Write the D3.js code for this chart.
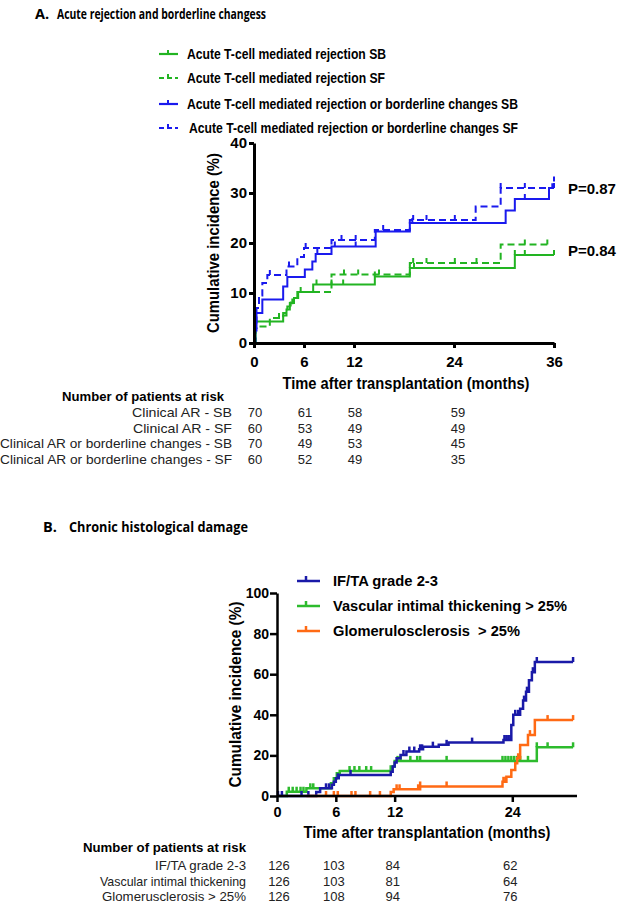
<!DOCTYPE html>
<html><head><meta charset="utf-8">
<script src="https://cdn.jsdelivr.net/npm/d3@7"></script>
<style>body{margin:0;background:#fff}svg{display:block}</style>
</head><body>
<script>
// ---------- DATA ----------
// Panel A (months, cumulative incidence %)
const aGreenSB_t = [0, 0.2, 3.5, 3.9, 4.3, 4.8, 5.3, 7.1, 14.5, 18.7, 31.3];
const aGreenSB_v = [0, 4.3, 5.5, 6.7, 8.0, 9.0, 10.2, 11.7, 13.3, 15.0, 17.6];
const aGreenSB_end = 36;
const aGreenSB_c = [7.5, 9.3, 10.7, 14.5, 19.2, 31.3, 32.5, 36];
const aGreenSF_t = [0, 0.2, 1.9, 3.5, 4.0, 4.6, 5.2, 9.3, 18.7, 29.6];
const aGreenSF_v = [0, 3.3, 5.0, 6.0, 7.3, 8.7, 10.2, 13.7, 16.0, 19.7];
const aGreenSF_end = 35.2;
const aGreenSF_c = [3.0, 4.4, 5.6, 10.8, 12.5, 15.0, 19.1, 20.7, 24.1, 26.7, 32.5, 35.2];
const aBlueSB_t = [0, 0.15, 0.3, 1.0, 3.5, 4.0, 6.1, 7.0, 7.4, 9.3, 14.6, 18.7, 30.2, 31.3, 35.4];
const aBlueSB_v = [0, 2.5, 6.0, 8.7, 11.3, 13.2, 14.7, 16.3, 17.8, 19.3, 22.3, 24.0, 26.5, 28.8, 31.0];
const aBlueSB_end = 36;
const aBlueSB_c = [7.6, 9.7, 12.2, 19.0, 32.5, 36];
const aBlueSF_t = [0, 0.15, 0.3, 0.6, 1.0, 1.6, 3.9, 5.2, 6.0, 9.3, 14.5, 18.7, 26.6, 29.6, 35.8];
const aBlueSF_v = [0, 3, 7, 9.5, 12, 13.6, 15.3, 17.2, 19.0, 20.6, 22.6, 24.6, 27.3, 31.0, 32.3];
const aBlueSF_end = 36;
const aBlueSF_c = [1.9, 4.2, 6.2, 10.5, 12.2, 15.5, 19.1, 20.7, 24.1, 29.6, 32.5, 36];
const aXTicks = [0, 6, 12, 24, 36];
const aYTicks = [0, 10, 20, 30, 40];
const aLegend = ["Acute T-cell mediated rejection SB", "Acute T-cell mediated rejection SF",
  "Acute T-cell mediated rejection or borderline changes SB", "Acute T-cell mediated rejection or borderline changes SF"];
const aPvals = [{label: "P=0.87", v: 31.0}, {label: "P=0.84", v: 18.7}];
const aRiskMonths = [0, 6, 12, 24];
const aRiskLabels = ["Clinical AR - SB", "Clinical AR - SF", "Clinical AR or borderline changes - SB", "Clinical AR or borderline changes - SF"];
const aRiskRow1 = [70, 61, 58, 59];
const aRiskRow2 = [60, 53, 49, 49];
const aRiskRow3 = [70, 49, 53, 45];
const aRiskRow4 = [60, 52, 49, 35];

// Panel B
const bIfta_t = [0, 4.0, 4.4, 5.6, 5.8, 6.0, 6.3, 11.6, 11.8, 12.0, 12.2, 12.6, 13.2, 14.5, 14.9, 16.5, 17.5, 23.1, 23.9, 24.1, 24.8, 25.1, 25.4, 25.7, 26.0, 26.3];
const bIfta_v = [0, 2, 3.8, 5.5, 7, 8.7, 10.4, 12, 14.5, 16.5, 18.6, 20.2, 21.9, 23, 24.3, 25.2, 26.3, 27.6, 35, 40, 43, 47, 51.4, 57, 61, 66];
const bIfta_end = 30.2;
const bIfta_c = [0.1, 0.5, 2.5, 3.2, 5.0, 5.3, 6.2, 7.5, 12.9, 13.5, 14.0, 14.6, 14.8, 15.9, 17.3, 19.9, 23.2, 23.4, 23.6, 23.8, 24.3, 24.6, 25.2, 25.5, 26.1, 26.5, 30.2];
const bVasc_t = [0, 1.0, 3.0, 5.5, 5.8, 6.1, 6.4, 11.6, 12.0, 26.5];
const bVasc_v = [0, 2.1, 3.8, 6.3, 8.7, 11.2, 12.3, 14.5, 17.3, 24.0];
const bVasc_end = 30.2;
const bVasc_c = [1.2, 1.6, 2.0, 2.4, 2.7, 3.4, 3.7, 7.4, 7.9, 8.4, 9.1, 9.6, 12.3, 12.6, 13.6, 14.3, 14.6, 17.3, 23.0, 23.3, 23.6, 23.9, 24.2, 24.5, 24.8, 25.6, 26.5, 27.6, 30.2];
const bGlom_t = [3.0, 11.6, 11.9, 14.6, 23.0, 23.4, 23.9, 24.3, 24.5, 24.8, 25.6, 26.3];
const bGlom_v = [0, 2, 3.3, 4.7, 7, 9.5, 12.8, 16.1, 18.6, 25.1, 30, 37.4];
const bGlom_end = 30.2;
const bGlom_c = [5.0, 5.8, 6.2, 7.6, 8.0, 9.5, 10.5, 12.2, 12.5, 14.4, 14.6, 17.3, 23.1, 23.3, 24.6, 25.8, 27.6, 30.2];
const bXTicks = [0, 6, 12, 24];
const bYTicks = [0, 20, 40, 60, 80, 100];
const bLegend = ["IF/TA grade 2-3", "Vascular intimal thickening > 25%", "Glomerulosclerosis\u00a0 > 25%"];
const bRiskMonths = [0, 6, 12, 24];
const bRiskLabels = ["IF/TA grade 2-3", "Vascular intimal thickening", "Glomerusclerosis > 25%"];
const bRiskRow1 = [126, 103, 84, 62];
const bRiskRow2 = [126, 103, 81, 64];
const bRiskRow3 = [126, 108, 94, 76];

// ---------- DRAW ----------
const FONT = "'Liberation Sans', Arial, sans-serif";
const GREEN_A = "#22b422", BLUE_A = "#1a1aee", BLUE_B = "#1a1aa8", GREEN_B = "#2dbb2d", ORANGE = "#ff6a14";
const svg = d3.select("body").append("svg").attr("width", 641).attr("height", 912);

function txt(g, x, y, s, o = {}) {
  const t = g.append("text").attr("x", x).attr("y", y).text(s)
    .attr("font-family", o.family || FONT).attr("font-size", o.size || 13)
    .attr("font-weight", o.weight || "normal").attr("fill", o.fill || "#000")
    .attr("text-anchor", o.anchor || "start");
  if (o.len) t.attr("textLength", o.len).attr("lengthAdjust", "spacingAndGlyphs");
  if (o.rotate) t.attr("transform", `rotate(-90,${x},${y})`);
  return t;
}
function stepVal(ts, vs, m) {
  const i = d3.bisectRight(ts, m) - 1;
  return vs[Math.max(0, i)];
}
function drawSeries(g, x, y, ts, vs, end, cens, color, w, dash) {
  const pts = ts.map((t, i) => [t, vs[i]]);
  pts.push([end, vs[vs.length - 1]]);
  const line = d3.line().x(d => x(d[0])).y(d => y(d[1])).curve(d3.curveStepAfter);
  g.append("path").attr("d", line(pts)).attr("fill", "none").attr("stroke", color)
    .attr("stroke-width", w).attr("stroke-dasharray", dash || null);
  g.selectAll(null).data(cens).enter().append("line")
    .attr("x1", d => x(d)).attr("x2", d => x(d))
    .attr("y1", d => y(stepVal(ts, vs, d))).attr("y2", d => y(stepVal(ts, vs, d)) - 5)
    .attr("stroke", color).attr("stroke-width", w);
}
function styleAxis(ax, w, fs) {
  ax.select(".domain").attr("stroke", "#000").attr("stroke-width", w);
  ax.selectAll(".tick line").attr("stroke", "#000").attr("stroke-width", w);
  ax.selectAll(".tick text").attr("font-family", FONT).attr("font-weight", "bold").attr("font-size", fs).attr("fill", "#000");
}

// ===== Panel A =====
const gA = svg.append("g");
txt(gA, 35, 19, "A.", {family: "'Open Sans', sans-serif", weight: "bold", size: 14.5});
txt(gA, 57, 19, "Acute rejection and borderline changess", {family: "'Open Sans', sans-serif", weight: "bold", size: 14.5, len: 209});

const xA = d3.scaleLinear().domain([0, 36]).range([254, 554]);
const yA = d3.scaleLinear().domain([0, 40]).range([343, 143]);

// legend A
const legA = [{c: GREEN_A, d: null}, {c: GREEN_A, d: "5,3"}, {c: BLUE_A, d: null}, {c: BLUE_A, d: "5,3"}];
const legAy = [54, 78, 104, 128], legAlen = [199, 198, 331, 329];
aLegend.forEach((s, i) => {
  gA.append("line").attr("x1", 159).attr("x2", 178).attr("y1", legAy[i]).attr("y2", legAy[i])
    .attr("stroke", legA[i].c).attr("stroke-width", 2.2).attr("stroke-dasharray", legA[i].d);
  gA.append("line").attr("x1", 168).attr("x2", 168).attr("y1", legAy[i]).attr("y2", legAy[i] - 4)
    .attr("stroke", legA[i].c).attr("stroke-width", 2);
  txt(gA, i === 3 ? 189 : 187, legAy[i] + 5, s, {weight: "bold", size: 15.5, len: legAlen[i]});
});

drawSeries(gA, xA, yA, aGreenSB_t, aGreenSB_v, aGreenSB_end, aGreenSB_c, GREEN_A, 2, null);
drawSeries(gA, xA, yA, aGreenSF_t, aGreenSF_v, aGreenSF_end, aGreenSF_c, GREEN_A, 2, "7,4");
drawSeries(gA, xA, yA, aBlueSB_t, aBlueSB_v, aBlueSB_end, aBlueSB_c, BLUE_A, 2, null);
drawSeries(gA, xA, yA, aBlueSF_t, aBlueSF_v, aBlueSF_end, aBlueSF_c, BLUE_A, 2, "7,4");

const axAx = gA.append("g").attr("transform", "translate(0,343)")
  .call(d3.axisBottom(xA).tickValues(aXTicks).tickSize(5).tickSizeOuter(0).tickPadding(8));
styleAxis(axAx, 3, 15);
const axAy = gA.append("g").attr("transform", "translate(254,0)")
  .call(d3.axisLeft(yA).tickValues(aYTicks).tickSize(5).tickSizeOuter(0).tickPadding(2));
styleAxis(axAy, 3, 15);

txt(gA, 219, yA(20), "Cumulative incidence (%)", {weight: "bold", size: 16, anchor: "middle", rotate: true, len: 180});
txt(gA, 406, 389, "Time after transplantation (months)", {weight: "bold", size: 16, anchor: "middle", len: 247});
aPvals.forEach(p => txt(gA, 568, yA(p.v) + 6, p.label, {weight: "bold", size: 15}));

// risk table A
txt(gA, 62, 401, "Number of patients at risk", {weight: "bold", size: 13, len: 162});
const aRows = [aRiskRow1, aRiskRow2, aRiskRow3, aRiskRow4];
const aLabLen = [100, 99, 232, 232];
aRows.forEach((row, i) => {
  const yy = 417 + i * 15.7;
  txt(gA, 232, yy, aRiskLabels[i], {size: 13, anchor: "end", fill: "#222", len: aLabLen[i]});
  row.forEach((v, j) => txt(gA, xA(aRiskMonths[j]) + (j === 3 ? 4 : 1), yy, v, {size: 13, anchor: "middle", fill: "#222"}));
});

// ===== Panel B =====
const gB = svg.append("g");
txt(gB, 43, 532, "B.", {family: "'Open Sans', sans-serif", weight: "bold", size: 14.5});
txt(gB, 69, 532, "Chronic histological damage", {family: "'Open Sans', sans-serif", weight: "bold", size: 14.5, len: 179});

const xB = d3.scaleLinear().domain([0, 30.6]).range([277, 577]);
const yB = d3.scaleLinear().domain([0, 100]).range([796, 593]);

const legBc = [BLUE_B, GREEN_B, ORANGE], legBy = [581, 606, 631], legBlen = [105, 234, 187];
bLegend.forEach((s, i) => {
  gB.append("line").attr("x1", 297).attr("x2", 320).attr("y1", legBy[i]).attr("y2", legBy[i])
    .attr("stroke", legBc[i]).attr("stroke-width", 2.5);
  gB.append("line").attr("x1", 306).attr("x2", 306).attr("y1", legBy[i]).attr("y2", legBy[i] - 5)
    .attr("stroke", legBc[i]).attr("stroke-width", 2.5);
  txt(gB, 333, legBy[i] + 5, s, {weight: "bold", size: 15.5, len: legBlen[i]});
});

drawSeries(gB, xB, yB, bVasc_t, bVasc_v, bVasc_end, bVasc_c, GREEN_B, 2.5, null);
drawSeries(gB, xB, yB, bIfta_t, bIfta_v, bIfta_end, bIfta_c, BLUE_B, 2.5, null);
drawSeries(gB, xB, yB, bGlom_t, bGlom_v, bGlom_end, bGlom_c, ORANGE, 2.5, null);

const axBx = gB.append("g").attr("transform", "translate(0,796)")
  .call(d3.axisBottom(xB).tickValues(bXTicks).tickSize(6).tickSizeOuter(0).tickPadding(5));
styleAxis(axBx, 2.5, 14.5);
axBx.select(".domain").attr("d", `M${xB(0)},0H577`);
const axBy = gB.append("g").attr("transform", "translate(277,0)")
  .call(d3.axisLeft(yB).tickValues(bYTicks).tickSize(7).tickSizeOuter(0).tickPadding(1));
styleAxis(axBy, 2.5, 14);

txt(gB, 241, yB(50), "Cumulative incidence (%)", {weight: "bold", size: 16, anchor: "middle", rotate: true, len: 186});
txt(gB, 427, 838, "Time after transplantation (months)", {weight: "bold", size: 16, anchor: "middle", len: 247});

txt(gB, 83, 852, "Number of patients at risk", {weight: "bold", size: 13, len: 163});
const bRows = [bRiskRow1, bRiskRow2, bRiskRow3];
const bLabLen = [91, 146, 144];
bRows.forEach((row, i) => {
  const yy = 870 + i * 15.7;
  txt(gB, 246, yy, bRiskLabels[i], {size: 13, anchor: "end", fill: "#222", len: bLabLen[i]});
  row.forEach((v, j) => txt(gB, xB(bRiskMonths[j]) + (j === 0 ? 2 : -2), yy, v, {size: 13, anchor: "middle", fill: "#222"}));
});
</script>
</body></html>
